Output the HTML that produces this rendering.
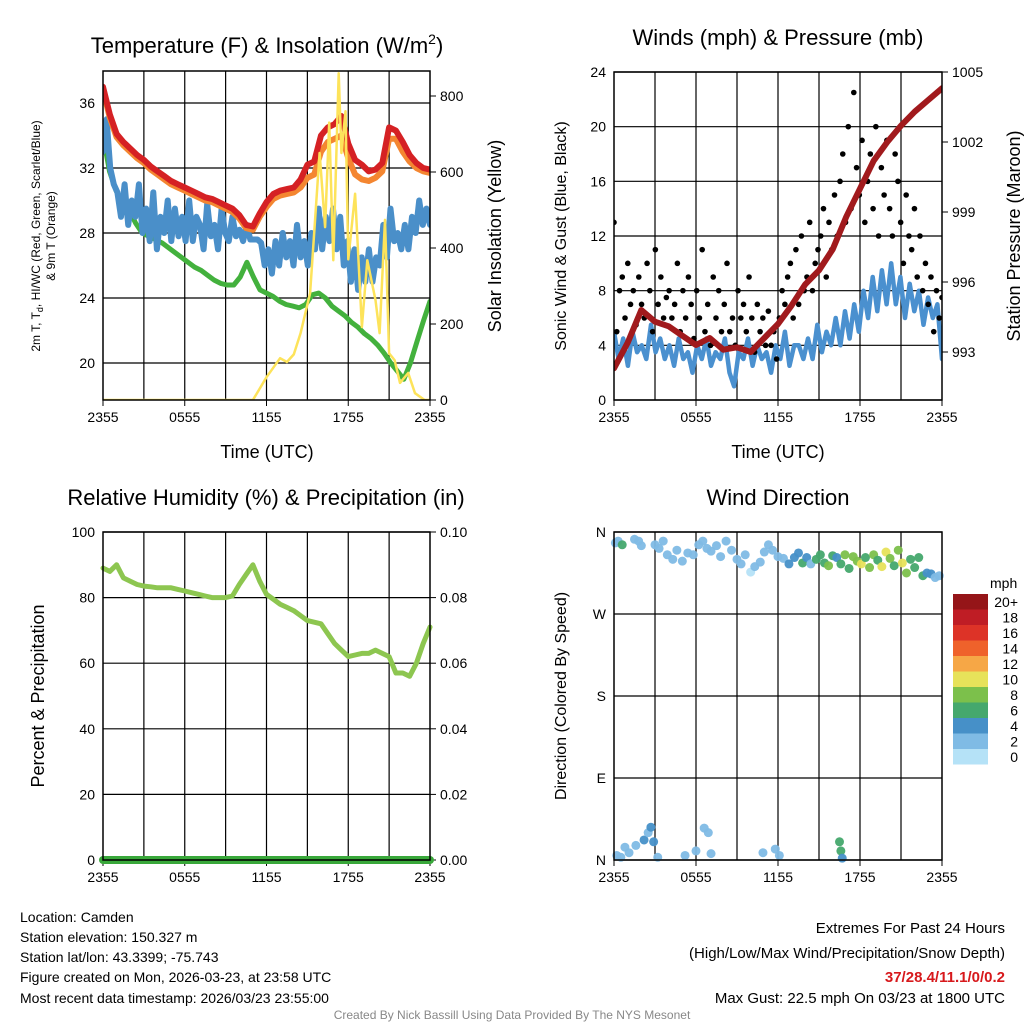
<!DOCTYPE html>
<html><head><meta charset="utf-8"><style>
body{margin:0;background:#fff}
svg{font-family:"Liberation Sans",sans-serif}
</style></head><body>
<svg id="s" width="1024" height="1024" viewBox="0 0 1024 1024" xmlns="http://www.w3.org/2000/svg">
<rect width="1024" height="1024" fill="#fff"/>
<g id="p1"></g>
<g id="p2"></g>
<g id="p3"></g>
<g id="p4"></g>
<g font-size="22" text-anchor="middle">
<text x="267" y="53">Temperature (F) &amp; Insolation (W/m<tspan font-size="14" dy="-9">2</tspan><tspan dy="9">)</tspan></text>
<text x="778" y="45">Winds (mph) &amp; Pressure (mb)</text>
<text x="266" y="505">Relative Humidity (%) &amp; Precipitation (in)</text>
<text x="778" y="505">Wind Direction</text>
</g>
<g font-size="18" text-anchor="middle">
<text x="267" y="458">Time (UTC)</text>
<text x="778" y="458">Time (UTC)</text>
<text transform="translate(501,236) rotate(-90)">Solar Insolation (Yellow)</text>
<text transform="translate(1020,236) rotate(-90)">Station Pressure (Maroon)</text>
<text transform="translate(44,696) rotate(-90)">Percent &amp; Precipitation</text>
</g>
<g font-size="16" text-anchor="middle">
<text transform="translate(566,236) rotate(-90)">Sonic Wind &amp; Gust (Blue, Black)</text>
<text transform="translate(566,696) rotate(-90)">Direction (Colored By Speed)</text>
</g>
<g font-size="12" text-anchor="middle">
<text transform="translate(40,236) rotate(-90)">2m T, T<tspan font-size="9" dy="3">d</tspan><tspan dy="-3">, HI/WC (Red, Green, Scarlet/Blue)</tspan></text>
<text transform="translate(55,236) rotate(-90)">&amp; 9m T (Orange)</text>
</g>
<g font-size="14">
<text x="20" y="922">Location: Camden</text>
<text x="20" y="942">Station elevation: 150.327 m</text>
<text x="20" y="962">Station lat/lon: 43.3399; -75.743</text>
<text x="20" y="982">Figure created on Mon, 2026-03-23, at 23:58 UTC</text>
<text x="20" y="1003">Most recent data timestamp: 2026/03/23 23:55:00</text>
</g>
<g font-size="15" text-anchor="end">
<text x="1005" y="933">Extremes For Past 24 Hours</text>
<text x="1005" y="958">(High/Low/Max Wind/Precipitation/Snow Depth)</text>
<text x="1005" y="982" fill="#d7191c" font-weight="bold">37/28.4/11.1/0/0.2</text>
<text x="1005" y="1003">Max Gust: 22.5 mph On 03/23 at 1800 UTC</text>
</g>
<text x="512" y="1019" font-size="12" fill="#888" text-anchor="middle">Created By Nick Bassill Using Data Provided By The NYS Mesonet</text>
</svg>
<script>
const xLabels=["2355","0555","1155","1755","2355"];
const tempRed=[37,35.3,34.1,33.6,33.2,32.8,32.5,32.1,31.8,31.5,31.2,31,30.8,30.6,30.4,30.2,30.1,29.9,29.7,29.5,29.1,28.5,28.4,29.2,29.9,30.4,30.6,30.7,30.8,31.3,32.2,32.4,34.0,34.5,34.7,35.2,33.5,32.5,32.2,31.8,31.9,32.3,34.5,34.3,33.6,32.8,32.3,32.0,31.9];
const tempOrange=[36.8,35.1,33.9,33.4,33.0,32.6,32.3,31.9,31.6,31.3,31.0,30.8,30.6,30.4,30.2,30.0,29.9,29.7,29.5,29.3,28.9,28.3,28.2,29.0,29.6,30.1,30.3,30.4,30.5,30.8,31.4,31.6,33.0,33.6,33.8,34.0,32.6,31.6,31.3,31.2,31.4,31.8,33.8,33.8,33.0,32.4,32.0,31.8,31.7];
const tempGreen=[34,31.8,30.6,29.8,29.4,28.6,28.0,27.8,27.6,27.4,27.1,26.8,26.5,26.2,25.9,25.7,25.4,25.1,24.9,24.8,24.8,25.3,26.2,25.3,24.5,24.3,24.1,23.8,23.6,23.5,23.4,23.6,24.2,24.3,24.0,23.5,23.2,22.9,22.5,22.2,21.8,21.5,21.1,20.6,20.0,19.5,19.0,20.0,21.3,22.6,23.8];
const tempBlue=[33,35,32,31,30.5,29,31,28.5,30,29,31,28,29.5,27.5,30.5,27,29,28,30,27.5,29.5,27.8,29,27.5,30,27.5,29,28.5,27,29.8,27.8,28.5,27,29.5,28,27.5,29,27.8,28.2,27.5,28.5,27.6,27.6,27.6,27.4,26,27,25.5,27.5,26,28,26.5,27.5,26,28.5,26.5,27.5,26,28,27,29.5,27,29,27.5,29.5,27,29,26,27.5,25,27,24.5,26.5,25,27,25,26.5,26,28.5,26.5,29.5,27.5,28,27,28.5,27,29,28,30,28.5,29.5,28.5];
const solarTimes=[0,11,11.5,12,12.5,13,13.5,14,14.5,15.2,15.9,16.3,16.6,16.9,17.3,17.5,17.8,18,18.5,19,19.4,20,20.3,20.7,21,21.4,21.8,22.4,22.9,23.6,24];
const solarValues=[0,0,30,60,85,110,100,120,176,281,650,455,730,368,860,650,760,370,543,192,368,263,176,474,123,105,45,71,18,0,0];
const pressure=[992.3,993.4,994.8,994.3,994.1,993.7,993.3,993.6,993.1,993.2,993.0,993.6,994.2,995.0,995.9,996.5,997.4,998.8,1000.0,1001.2,1002.0,1002.7,1003.3,1003.8,1004.3];
const windSpeed=[5,3,4.5,2.5,5,3.5,4,3,5.5,3.5,4.5,3,4,2.5,4.5,3,3.5,2,4,3,4.5,2.5,3.5,3,4.5,2,1,3.5,3,4.5,2.5,4,3,3.5,2,4,3,5,2.5,4,4,3,4.5,3,5.5,3.5,5,4,6,4,6.5,4.5,7,5,8,6,9,6.5,9.5,7,10,7,9,6,8.5,6.5,8,5.5,7.5,6,7,3];
const gusts=[13,5,8,9,6,10,7,8,5.5,9,7,6,10,8,5,11,7,9,6,7.5,8,6,7,10,5,8,6,9,7,4.5,8,6,11,5,7,4,9,6,8,5,7,10,5,6,4,8,6,7,5,9,6,3.5,7,5,6,4,6.5,4,5,3,6,8,7,9,10,6,11,7,12,8,9,13,8,10,11,12,14,9,13,11,15,12,16,18,13,20,14,22.5,17,15,19,13,16,18,14,20,12,17,15,19,14,12,18,16,13,10,15,12,11,14,9,12,8,10,7,9,5,8,6,7.5];
const rh=[89,88,90,86,85,84,83.5,83.3,83,83,83,82.5,82,81.5,81,80.5,80,80,80,80.5,84,87,90,85,81,79.5,78,77,76,74.5,73,72.5,72,69,66,64,62,62.5,63,63,64,63,62,57,57,56,60,66,71];
const precip=[0,0,0,0,0,0,0,0,0,0,0,0,0,0,0,0,0,0,0,0,0,0,0,0,0];
const dirTimes=[0.1,0.3,0.6,1.5,1.8,2.0,3.0,3.3,3.6,3.9,4.3,4.6,5.0,5.4,5.8,6.2,6.5,6.8,7.1,7.5,7.8,8.2,8.6,9.0,9.3,9.6,10.0,10.3,10.7,11.0,11.3,11.6,12.0,12.4,12.8,13.2,13.5,13.8,14.1,14.4,14.8,15.1,15.4,15.7,16.0,16.3,16.6,16.9,17.2,17.5,17.8,18.1,18.4,18.7,19.0,19.3,19.6,19.9,20.2,20.5,20.8,21.1,21.4,21.7,22.0,22.3,22.6,22.9,23.2,23.5,23.8,0.2,0.5,0.8,1.1,1.6,2.2,2.5,2.7,2.9,3.2,5.2,6.0,6.6,6.9,7.1,10.9,11.8,12.1,16.5,16.6,16.7];
const dirDegrees=[348,350,346,352,350,345,346,342,350,335,330,340,328,337,335,346,350,342,339,345,333,350,340,330,325,335,316,322,327,338,346,340,333,331,325,332,337,326,332,325,330,335,326,323,334,332,325,335,320,333,328,325,332,321,335,329,322,338,331,323,340,326,315,330,321,332,312,315,314,310,312,5,3,14,8,16,22,30,36,20,3,5,10,35,30,7,8,12,5,20,10,2];
const dirSpeeds=[3,2,6,2,2,3,3,3,2,3,2,3,3,3,2,2,2,3,2,2,3,2,2,2,2,2,1,2,2,2,3,3,3,3,5,4,5,6,5,3,7,7,6,8,7,5,7,8,7,9,8,10,7,9,8,7,10,10,8,7,9,10,8,7,6,7,6,5,4,3,3,2,3,3,2,2,4,3,4,4,2,3,2,2,2,2,3,3,2,6,6,4];
const barLabels=["20+","18","16","14","12","10","8","6","4","2","0"];
const barColors=["#951518","#bf1d25","#dd3327","#ef622b","#f6a746","#e7e25a","#7cc04b","#45a86d","#4690c8","#7fbbe5","#b5e2f7"];

const NS="http://www.w3.org/2000/svg";
function el(tag,attrs,parent,txt){const e=document.createElementNS(NS,tag);for(const k in attrs)e.setAttribute(k,attrs[k]);if(txt!==undefined)e.textContent=txt;parent.appendChild(e);return e;}
function lin(d0,d1,r0,r1){return v=>r0+(v-d0)/(d1-d0)*(r1-r0);}
function frame(g,x0,x1,y0,y1,yTicksL,fy,fmtL){
  const xs=lin(0,24,x0,x1);
  for(let h=3;h<24;h+=3){const l=el('line',{x1:xs(h),x2:xs(h),y1:y0,y2:y1,stroke:'#000','stroke-width':1.2},g);
    
    }
  yTicksL.forEach(v=>{const y=fy(v);const l=el('line',{x1:x0,x2:x1,y1:y,y2:y,stroke:'#000','stroke-width':1.2},g);
    
    
    const t=el('text',{x:x0-8,y:y+5,'font-size':14,'text-anchor':'end'},g,fmtL(v));
    
    });
  xLabels.forEach((s,i)=>{const x=xs(i*6);const t=el('text',{x:x,y:y1+22,'font-size':14,'text-anchor':'middle'},g,s);
    
    
    el('line',{x1:x,x2:x,y1:y1,y2:y1+6,stroke:'#000'},g);});
  return xs;
}
function border(g,x0,x1,y0,y1){const r=el('rect',{x:x0,y:y0,width:x1-x0,height:y1-y0,fill:'none',stroke:'#000','stroke-width':1.5},g);
  
  }
function path(g,arr,xs,ys,color,w,name,times){
  const n=arr.length;let d='';arr.forEach((v,i)=>{const t=times?times[i]:i*24/(n-1);d+=(i?'L':'M')+xs(t).toFixed(1)+','+ys(v).toFixed(1);});
  const p=el('path',{d:d,fill:'none',stroke:color,'stroke-width':w,'stroke-linejoin':'round','stroke-linecap':'round'},g);
  
  
}
function rightTicks(g,x1,vals,fy,fmt){vals.forEach(v=>{const y=fy(v);el('line',{x1:x1,x2:x1+6,y1:y,y2:y,stroke:'#000'},g);
  const t=el('text',{x:x1+10,y:y+5,'font-size':14},g,fmt(v));
  
  });}

// Panel 1
(function(){const g=document.getElementById('p1');const X0=103,X1=430,Y0=71,Y1=400;
 const ty=lin(20,36,363,103);const sy=lin(0,800,400,96);
 const xs=frame(g,X0,X1,Y0,Y1,[20,24,28,32,36],ty,v=>v);
 rightTicks(g,X1,[0,200,400,600,800],sy,v=>v);
 const c=el('g',{'clip-path':'url(#c1)'},g);
 const cp=el('clipPath',{id:'c1'},g);el('rect',{x:X0,y:Y0,width:X1-X0,height:Y1-Y0},cp);
 path(c,tempGreen,xs,ty,'#43b13d',5,'dewpoint-line');
 path(c,tempBlue,xs,ty,'#4a8fc9',6,'windchill-line');
 path(c,tempOrange,xs,ty,'#f48631',6,'temp-9m-line');
 path(c,tempRed,xs,ty,'#d52124',6,'temp-2m-line');
 path(c,solarValues,xs,sy,'#fde35a',2.5,'solar-line',solarTimes);
 border(g,X0,X1,Y0,Y1);})();

// Panel 2
(function(){const g=document.getElementById('p2');const X0=614,X1=942,Y0=72,Y1=400;
 const wy=lin(0,24,400,72);const py=lin(993,1005,352,72);
 const xs=frame(g,X0,X1,Y0,Y1,[0,4,8,12,16,20,24],wy,v=>v);
 rightTicks(g,X1,[993,996,999,1002,1005],py,v=>v);
 const cp=el('clipPath',{id:'c2'},g);el('rect',{x:X0,y:Y0,width:X1-X0,height:Y1-Y0},cp);
 const c=el('g',{'clip-path':'url(#c2)'},g);
 path(c,windSpeed,xs,wy,'#4a90cf',4.5,'sonic-wind-line');
 gusts.forEach((v,i)=>{const d=el('circle',{cx:xs(i*24/(gusts.length-1)),cy:wy(v),r:2.8,fill:'#000'},c);
   
   });
 path(c,pressure,xs,py,'#a11a1d',6,'pressure-line');
 border(g,X0,X1,Y0,Y1);})();

// Panel 3
(function(){const g=document.getElementById('p3');const X0=103,X1=430,Y0=532,Y1=860;
 const ry=lin(0,100,860,532);const qy=lin(0,0.1,860,532);
 const xs=frame(g,X0,X1,Y0,Y1,[0,20,40,60,80,100],ry,v=>v);
 rightTicks(g,X1,[0,0.02,0.04,0.06,0.08,0.1],qy,v=>v.toFixed(2));
 path(g,rh,xs,ry,'#8dc650',5,'humidity-line');
 path(g,precip,xs,qy,'#39a83a',8,'precip-line');
 border(g,X0,X1,Y0,Y1);})();

// Panel 4
(function(){const g=document.getElementById('p4');const X0=614,X1=942,Y0=532,Y1=860;
 const dy=lin(0,360,860,532);
 const lab={0:'N',90:'E',180:'S',270:'W',360:'N'};
 const xs=frame(g,X0,X1,Y0,Y1,[0,90,180,270,360],dy,v=>lab[v]);
 dirDegrees.forEach((v,i)=>{const s=dirSpeeds[i];const bi=Math.min(10,Math.max(0,10-Math.floor(s/2)));
   const d=el('circle',{cx:xs(dirTimes[i]),cy:dy(v),r:4.5,fill:barColors[bi],opacity:0.95},g);
   
   });
 border(g,X0,X1,Y0,Y1);
 const lg=el('g',{},g);
 
 
 el('text',{x:990,y:588,'font-size':14},lg,'mph');
 barLabels.forEach((s,i)=>{const y=594+i*15.5;el('rect',{x:953,y:y,width:35,height:15.5,fill:barColors[i]},lg);
   el('text',{x:1018,y:y+13,'font-size':14,'text-anchor':'end'},lg,s);});
})();
</script>
</body></html>
